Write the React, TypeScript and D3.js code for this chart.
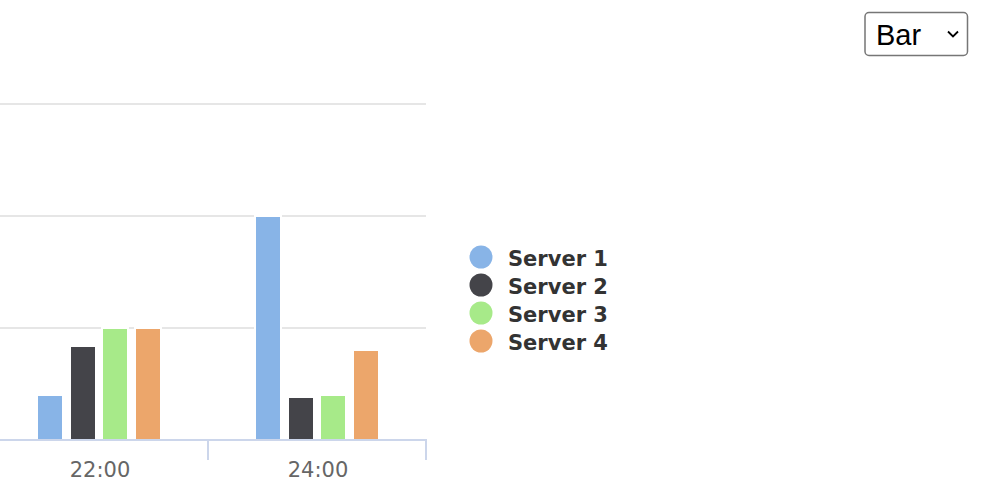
import React from "react";
import * as d3 from "d3";

// Time slots shown on the category axis
const categories = ["22:00", "24:00"];

// Legend / series names and their colours
const seriesNames = ["Server 1", "Server 2", "Server 3", "Server 4"];
const seriesColors = ["#88b4e7", "#444449", "#a7ea89", "#eca66b"];

// Load per server for each time slot
const server1 = [4, 20];
const server2 = [8.4, 3.8];
const server3 = [10, 4];
const server4 = [10, 8];

// Horizontal grid values
const yTicks = [0, 10, 20, 30];

// Chart type options for the selector
const chartTypes = ["Bar"];

const W = 986;
const H = 504;

export default function App() {
  const seriesValues = [server1, server2, server3, server4];

  // Plot area (extends past the left edge of the view)
  const plotLeft = -10;
  const plotRight = 426;
  const plotTop = 104;
  const plotBottom = 440;

  const x0 = d3.scaleBand<string>().domain(categories).range([plotLeft, plotRight]).padding(0);
  const bw = x0.bandwidth();
  const x1 = d3
    .scaleBand<string>()
    .domain(seriesNames)
    .range([bw * 0.2, bw * 0.8])
    .paddingInner(0.2)
    .paddingOuter(0.1);
  const y = d3.scaleLinear().domain([0, 30]).range([plotBottom, plotTop]);

  const tickEdges = categories.map((c) => (x0(c) as number) + bw);

  return (
    <div style={{ position: "fixed", left: 0, top: 0, width: W, height: H, background: "#fff" }}>
      <svg width={W} height={H} style={{ display: "block" }}>
        <rect x={0} y={0} width={W} height={H} fill="#fff" />

        {/* grid lines */}
        {yTicks
          .filter((t) => t !== 0)
          .map((t) => (
            <line
              key={"g" + t}
              x1={0}
              x2={plotRight}
              y1={Math.round(y(t))}
              y2={Math.round(y(t))}
              stroke="#e6e6e6"
              strokeWidth={2}
            />
          ))}

        {/* bars */}
        {categories.map((c, ci) => (
          <g key={c}>
            {seriesNames.map((s, si) => {
              const v = seriesValues[si][ci];
              const bx = (x0(c) as number) + (x1(s) as number);
              const top = y(v);
              return (
                <rect
                  key={s}
                  x={Math.round(bx)}
                  y={Math.round(top)}
                  width={Math.round(x1.bandwidth())}
                  height={Math.round(y(0) - top)}
                  fill={seriesColors[si]}
                  stroke="#fff"
                  strokeWidth={2}
                />
              );
            })}
          </g>
        ))}

        {/* x axis */}
        <line x1={0} x2={plotRight + 1} y1={plotBottom} y2={plotBottom} stroke="#ccd6eb" strokeWidth={2} />
        {tickEdges.map((tx, i) => (
          <line
            key={"t" + i}
            x1={Math.round(tx)}
            x2={Math.round(tx)}
            y1={plotBottom}
            y2={plotBottom + 20}
            stroke="#ccd6eb"
            strokeWidth={2}
          />
        ))}
        {categories.map((c) => (
          <text
            key={"l" + c}
            x={(x0(c) as number) + bw / 2 + 1}
            y={477}
            textAnchor="middle"
            fontFamily="'DejaVu Sans', Verdana, sans-serif"
            fontSize={21}
            fill="#666666"
          >
            {c}
          </text>
        ))}

        {/* legend */}
        {seriesNames.map((s, i) => (
          <g key={"lg" + s} transform={`translate(0, ${i * 28})`}>
            <circle cx={481} cy={257} r={11.5} fill={seriesColors[i]} />
            <text
              x={508}
              y={266}
              fontFamily="'DejaVu Sans', Verdana, sans-serif"
              fontWeight="bold"
              fontSize={21}
              fill="#333333"
            >
              {s}
            </text>
          </g>
        ))}

        {/* chart type selector */}
        <g>
          <rect x={865} y={12.5} width={102.5} height={43} rx={4} fill="#fff" stroke="#767676" strokeWidth={1.5} />
          <text x={876} y={45} fontFamily="'Liberation Sans', Arial, sans-serif" fontSize={29} fill="#000">
            {chartTypes[0]}
          </text>
          <path d="M948,31.5 L953,36.5 L958,31.5" fill="none" stroke="#000" strokeWidth={1.8} />
        </g>
      </svg>
    </div>
  );
}
